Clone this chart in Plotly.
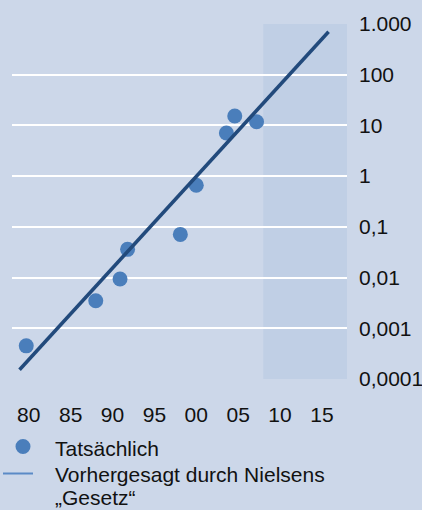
import plotly.graph_objects as go

# Data
actual_years = [1979.7, 1988.0, 1990.9, 1991.8, 1998.1, 2000.0, 2003.6, 2004.6, 2007.2]
actual_values = [0.00045, 0.0035, 0.0094, 0.036, 0.071, 0.66, 7.1, 15.3, 11.8]
law_years = [1978.9, 2015.8]
law_values = [0.000152, 705]

x_tickvals = [1980, 1985, 1990, 1995, 2000, 2005, 2010, 2015]
x_ticktext = ["80", "85", "90", "95", "00", "05", "10", "15"]
y_tickvals = [0.0001, 0.001, 0.01, 0.1, 1, 10, 100, 1000]
y_ticktext = ["0,0001", "0,001", "0,01", "0,1", "1", "10", "100", "1.000"]
forecast_span = [2008, 2018]
legend_labels = ["Tatsächlich", "Vorhergesagt durch Nielsens", "„Gesetz“"]

BG = "#CCD7E9"
SHADE = "#C0CFE5"
DOT = "#4A7EBB"
LINE = "#224A7C"
LEG_LINE = "#5B8AC6"
FONT = "Liberation Sans, Arial, sans-serif"

W, H = 422, 510
ML, MR, MT, MB = 12, 75, 24, 131
PW, PH = W - ML - MR, H - MT - MB


def px_x(px):
    return (px - ML) / PW


def px_y(py):
    return (H - MB - py) / PH


fig = go.Figure()
fig.add_trace(go.Scatter(
    x=actual_years, y=actual_values, mode="markers", name="Tatsächlich",
    marker=dict(size=15, color=DOT), cliponaxis=False, showlegend=False,
))
fig.add_trace(go.Scatter(
    x=law_years, y=law_values, mode="lines", name="Vorhergesagt durch Nielsens „Gesetz“",
    line=dict(color=LINE, width=3.5), showlegend=False,
))

fig.add_shape(type="rect", xref="x", yref="paper",
              x0=forecast_span[0], x1=forecast_span[1], y0=0, y1=1,
              fillcolor=SHADE, line=dict(width=0), layer="below")

# legend keys (manual legend below the chart)
fig.add_shape(type="circle", xref="paper", yref="paper",
              xsizemode="pixel", ysizemode="pixel",
              xanchor=px_x(23), yanchor=px_y(446.5),
              x0=-7.5, x1=7.5, y0=-7.5, y1=7.5,
              fillcolor=DOT, line=dict(width=0))
fig.add_shape(type="line", xref="paper", yref="paper",
              x0=px_x(3), x1=px_x(33), y0=px_y(473.5), y1=px_y(473.5),
              line=dict(color=LEG_LINE, width=2))
for label, cy in zip(legend_labels, [448.5, 474, 497.5]):
    fig.add_annotation(text=label, xref="paper", yref="paper",
                       x=px_x(54), y=px_y(cy), xanchor="left", yanchor="middle",
                       showarrow=False, align="left", borderpad=0,
                       font=dict(size=21, family=FONT, color="#111111"))

fig.update_layout(
    width=W, height=H,
    margin=dict(l=ML, r=MR, t=MT, b=MB, autoexpand=False),
    paper_bgcolor=BG, plot_bgcolor=BG,
    font=dict(family=FONT, size=21, color="#111111"),
    showlegend=False,
)
fig.update_xaxes(range=[1978, 2018], tickvals=x_tickvals, ticktext=x_ticktext,
                 showgrid=False, zeroline=False, showline=False,
                 ticks="", ticklabelstandoff=21, automargin=False)
fig.update_yaxes(type="log", range=[-4, 3], side="right",
                 tickvals=y_tickvals, ticktext=y_ticktext,
                 showgrid=True, gridcolor="white", gridwidth=2,
                 zeroline=False, showline=False, ticks="", ticklabelstandoff=11,
                 automargin=False)

fig.write_html("out.html")
